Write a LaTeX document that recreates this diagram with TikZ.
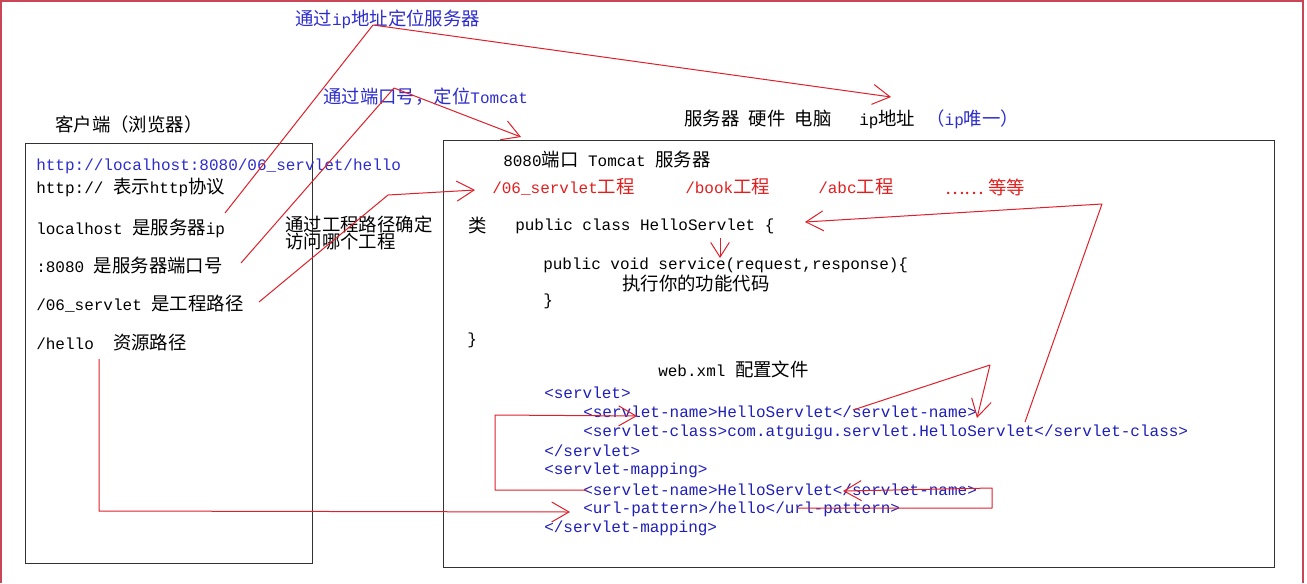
\documentclass[tikz,border=0pt]{standalone}
\usepackage{fontspec}
\setmonofont{Liberation Mono}
\newfontfamily\cjk{Noto Sans CJK SC}
\usetikzlibrary{arrows.meta}
\definecolor{framecol}{RGB}{200,70,85}
\definecolor{redline}{RGB}{222,32,42}
\definecolor{redtxt}{RGB}{225,30,30}
\definecolor{bluetxt}{RGB}{45,45,205}
\definecolor{xmlblue}{RGB}{30,30,185}
\definecolor{boxline}{RGB}{50,50,50}
\newcommand\zh[1]{{\cjk\fontsize{13.8pt}{16pt}\selectfont #1}}
\begin{document}
\begin{tikzpicture}[x=0.75pt,y=-0.75pt,
  txt/.style={anchor=west,inner sep=0pt,font=\ttfamily\fontsize{12pt}{14pt}\selectfont},
  blue/.style={txt,text=bluetxt},
  xml/.style={txt,text=xmlblue},
  redt/.style={txt,text=redtxt},
  panel/.style={draw=boxline,line width=0.9pt,inner sep=0pt,anchor=north west},
  link/.style={draw=redline,line width=0.75pt,line join=round},
  arr/.style={link,-{Straight Barb[length=13pt,width=15pt]}},
  smallarr/.style={link,-{Straight Barb[length=11pt,width=14pt]}}]
\useasboundingbox (0,0) rectangle (1307,583);
% outer frame
\draw[framecol,line width=1.3pt] (1,583) -- (1,1) -- (1303,1) -- (1303,583);

% panels
\node[panel,minimum width=215.25pt,minimum height=315pt] (client) at (25,143) {};
\node[panel,minimum width=623.25pt,minimum height=320.25pt] (server) at (443,140) {};

% headings and notes
\node[txt] (clienthead) at (55,125) {\zh{客户端（浏览器）}};
\node[blue] (noteip) at (295,19) {\zh{通过}ip\zh{地址定位服务器}};
\node[blue] (noteport) at (323,97) {\zh{通过端口号，定位}Tomcat};
\node[txt] (serverhead) at (684,119) {\zh{服务器\hspace{7pt}硬件\hspace{7pt}电脑}};
\node[txt] (ipaddr) at (859,119) {ip\zh{地址}};
\node[blue] (ipunique) at (926,119) {\zh{（}ip\zh{唯一）}};
\node[txt] (noteproj1) at (285,224) {\zh{通过工程路径确定}};
\node[txt] (noteproj2) at (285,242) {\zh{访问哪个工程}};

% client text
\node[blue] (url) at (36,166) {http://localhost:8080/06\_servlet/hello};
\node[txt] (lhttp) at (36,187) {http:// \zh{表示}http\zh{协议}};
\node[txt] (lhost) at (36,228) {localhost \zh{是服务器}ip};
\node[txt] (lport) at (36,266) {:8080 \zh{是服务器端口号}};
\node[txt] (lproj) at (36,304) {/06\_servlet \zh{是工程路径}};
\node[txt] (lres) at (36,343) {/hello\ \ \zh{资源路径}};

% server text
\node[txt] (tomcat) at (503,160) {8080\zh{端口} Tomcat \zh{服务器}};
\node[redt] (p1) at (492,187) {/06\_servlet\zh{工程}};
\node[redt] (p2) at (685,187) {/book\zh{工程}};
\node[redt] (p3) at (818,187) {/abc\zh{工程}};
\node[redt] (p4) at (945,187) {\zh{…… 等等}};
\node[txt] (lei) at (468,226) {\zh{类}};
\node[txt] (cls) at (515,226) {public class HelloServlet \{};
\node[txt] (svc) at (543,265) {public void service(request,response)\{};
\node[txt] (exec) at (622,283) {\zh{执行你的功能代码}};
\node[txt] (br1) at (543,301) {\}};
\node[txt] (br2) at (467,340) {\}};
\node[txt] (webxml) at (658,369) {web.xml \zh{配置文件}};
\node[xml] (x1) at (544,393) {<servlet>};
\node[xml] (x2) at (583,412) {<servlet-name>HelloServlet</servlet-name>};
\node[xml] (x3) at (583,432) {<servlet-class>com.atguigu.servlet.HelloServlet</servlet-class>};
\node[xml] (x4) at (544,451) {</servlet>};
\node[xml] (x5) at (544,470) {<servlet-mapping>};
\node[xml] (x6) at (583,490) {<servlet-name>HelloServlet</servlet-name>};
\node[xml] (x7) at (583,509) {<url-pattern>/hello</url-pattern>};
\node[xml] (x8) at (544,528) {</servlet-mapping>};

% connector points
\coordinate (a0) at (225,213);
\coordinate (a1) at (373,25);
\coordinate (a2) at (891,97);
\coordinate (b0) at (241,263);
\coordinate (b1) at (394,88);
\coordinate (b2) at (521,137);
\coordinate (c0) at (259,302);
\coordinate (c1) at (388,195);
\coordinate (c2) at (475,190);
\coordinate (d0) at (99,359);
\coordinate (d1) at (99,511);
\coordinate (d2) at (570,512);
\coordinate (e0) at (587,490);
\coordinate (e1) at (495,490);
\coordinate (e2) at (495,415);
\coordinate (e3) at (637,416);
\coordinate (f0) at (797,508);
\coordinate (f1) at (992,508);
\coordinate (f2) at (992,488);
\coordinate (f3) at (843,491);
\coordinate (g0) at (853,410);
\coordinate (g1) at (990,365);
\coordinate (g2) at (977,418);
\coordinate (h0) at (1025,422);
\coordinate (h1) at (1102,204);
\coordinate (h2) at (805,222);
\coordinate (i0) at (720,238);
\coordinate (i1) at (720,258);

% connectors
\draw[arr] (a0) -- (a1) -- (a2);
\draw[arr] (b0) -- (b1) -- (b2);
\draw[arr] (c0) -- (c1) -- (c2);
\draw[arr] (d0) -- (d1) -- (d2);
\draw[arr] (e0) -- (e1) -- (e2) -- (e3);
\draw[arr] (f0) -- (f1) -- (f2) -- (f3);
\draw[arr] (g0) -- (g1) -- (g2);
\draw[arr] (h0) -- (h1) -- (h2);
\draw[smallarr] (i0) -- (i1);
\end{tikzpicture}
\end{document}
